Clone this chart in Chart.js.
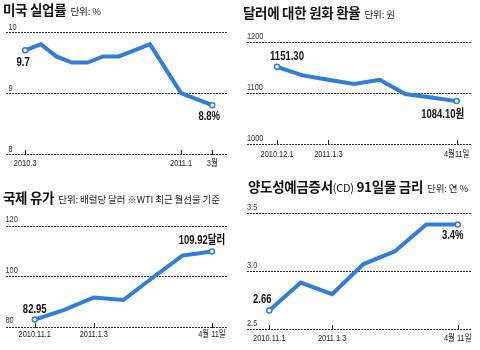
<!DOCTYPE html>
<html>
<head>
<meta charset="utf-8">
<script src="https://cdn.jsdelivr.net/npm/chart.js@4.4.1/dist/chart.umd.min.js"></script>
<style>
  html, body { margin: 0; padding: 0; background: #fff; }
  #wrap { position: relative; width: 480px; height: 350px; overflow: hidden; }
  canvas { position: absolute; }
  .t { position: absolute; font: bold 13.5px/16px "Noto Sans CJK KR", sans-serif; color: #111; white-space: nowrap; letter-spacing: -0.3px; }
  .u { font-weight: normal; font-size: 9.5px; margin-left: 4px; letter-spacing: -0.1px; color: #222; }
  .cd { font-weight: normal; font-size: 11px; }
</style>
</head>
<body>
<div id="wrap">
  <canvas id="c1" width="240" height="175" style="left:0;top:0"></canvas>
  <canvas id="c2" width="240" height="175" style="left:240px;top:0"></canvas>
  <canvas id="c3" width="240" height="175" style="left:0;top:175px"></canvas>
  <canvas id="c4" width="240" height="175" style="left:240px;top:175px"></canvas>
  <div class="t" style="left:3px;top:1px">미국 실업률<span class="u">단위: %</span></div>
  <div class="t" style="left:243px;top:4px">달러에 대한 원화 환율<span class="u">단위: 원</span></div>
  <div class="t" style="left:3px;top:189px">국제 유가<span class="u">단위: 배럴당 달러 ※WTI 최근 월선물 기준</span></div>
  <div class="t" style="left:248px;top:178px">양도성예금증서<span class="cd">(CD)</span> 91일물 금리<span class="u">단위: 연 %</span></div>
</div>
<script>
// 미국 실업률
var unempMonths = ["2010.3", "2010.4", "2010.5", "2010.6", "2010.7", "2010.8", "2010.9", "2010.10", "2010.11", "2010.12", "2011.1", "2011.2", "3월"];
var unempValues = [9.7, 9.8, 9.6, 9.5, 9.5, 9.6, 9.6, 9.7, 9.8, 9.4, 9.0, 8.9, 8.8];
var unempTicks = ["2010.3", "2011.1", "3월"];
var unempYTicks = [8, 9, 10];
var unempNotes = ["9.7", "8.8%"];

// 달러에 대한 원화 환율
var fxDates = ["2010.12.1", "2010.12.15", "2011.1.3", "2011.1.17", "2011.2.1", "2011.2.21", "2011.3.14", "4월11일"];
var fxValues = [1151.3, 1134.5, 1126, 1117.5, 1126, 1098, 1091, 1084.1];
var fxTicks = ["2010.12.1", "2011.1.3", "4월11일"];
var fxYTicks = [1000, 1100, 1200];
var fxNotes = ["1151.30", "1084.10원"];

// 국제 유가
var oilDates = ["2010.11.1", "2010.12.1", "2011.1.3", "2011.2.1", "2011.3.2", "2011.3.21", "4월 11일"];
var oilValues = [82.95, 86.8, 91.7, 90.7, 99.6, 108.3, 109.92];
var oilTicks = ["2010.11.1", "2011.1.3", "4월 11일"];
var oilYTicks = [80, 100, 120];
var oilNotes = ["82.95", "109.92달러"];

// CD 91일물 금리
var cdDates = ["2010.11.1", "2010.12.1", "2011.1.3", "2011.2.1", "2011.3.2", "2011.3.21", "4월 11일"];
var cdValues = [2.66, 2.90, 2.80, 3.06, 3.17, 3.40, 3.40];
var cdTicks = ["2010.11.1", "2011.1.3", "4월 11일"];
var cdYTicks = [2.5, 3.0, 3.5];
var cdNotes = ["2.66", "3.4%"];

var BLUE = "#2f7ed8";
var FONT = "'Liberation Sans', Arimo, 'Noto Sans CJK KR', sans-serif";

// condensed text: the source uses a narrow face, so squeeze horizontally
function squeezed(ctx, text, x, y, sx, align) {
    ctx.save();
    ctx.translate(x, y);
    ctx.scale(sx, 1);
    ctx.textAlign = align;
    ctx.fillText(text, 0, 0);
    ctx.restore();
}

var noteLabels = {
    id: "noteLabels",
    afterDatasetsDraw: function (chart, args, opts) {
        var meta = chart.getDatasetMeta(0);
        var ctx = chart.ctx;
        ctx.save();
        ctx.font = "bold 12.5px " + FONT;
        ctx.fillStyle = "#111";
        ctx.textBaseline = "middle";
        opts.items.forEach(function (it) {
            var p = meta.data[it.index];
            squeezed(ctx, it.text, p.x + it.dx, p.y + it.dy, 0.76, "center");
        });
        ctx.restore();
    }
};

var axisText = {
    id: "axisText",
    afterDraw: function (chart, args, opts) {
        var x = chart.scales.x, y = chart.scales.y, a = chart.chartArea;
        var ctx = chart.ctx;
        ctx.save();
        // tick marks sitting on the bottom line
        ctx.strokeStyle = "#222";
        ctx.lineWidth = 1;
        ctx.beginPath();
        x.ticks.forEach(function (t) {
            var px = Math.round(x.getPixelForValue(t.value)) + 0.5;
            ctx.moveTo(px, a.bottom - 4);
            ctx.lineTo(px, a.bottom + 1);
        });
        ctx.stroke();
        ctx.fillStyle = "#222";
        ctx.font = "9.5px " + FONT;
        ctx.textBaseline = "middle";
        x.ticks.forEach(function (t) {
            squeezed(ctx, opts.cats[t.value], x.getPixelForValue(t.value), a.bottom + opts.xGap, 0.78, "center");
        });
        ctx.fillStyle = "#333";
        y.ticks.forEach(function (t) {
            var s = opts.fixed ? t.value.toFixed(1) : String(t.value);
            squeezed(ctx, s, a.left + opts.yPad, y.getPixelForValue(t.value) + opts.yOff, 0.78, "left");
        });
        ctx.restore();
    }
};

function makeChart(id, cats, values, tickCats, yTicks, notes, box) {
    var last = values.length - 1;
    var tickIdx = tickCats.map(function (c) { return cats.indexOf(c); });
    new Chart(document.getElementById(id), {
        type: "line",
        data: {
            datasets: [{
                data: values.map(function (v, i) { return { x: i, y: v }; }),
                borderColor: BLUE,
                borderWidth: 4,
                tension: 0,
                pointRadius: function (c) { return c.dataIndex === 0 || c.dataIndex === last ? 2.5 : 0; },
                pointBackgroundColor: "#fff",
                pointBorderColor: BLUE,
                pointBorderWidth: 1.5
            }]
        },
        options: {
            responsive: false,
            animation: false,
            layout: { padding: { left: box.left, right: 240 - box.right, top: box.top, bottom: 0 } },
            plugins: {
                legend: { display: false },
                tooltip: { enabled: false },
                noteLabels: {
                    items: [
                        { index: 0, text: notes[0], dx: box.n0[0], dy: box.n0[1] },
                        { index: last, text: notes[1], dx: box.n1[0], dy: box.n1[1] }
                    ]
                },
                axisText: { cats: cats, xGap: box.xGap, yPad: box.yPad, yOff: box.yOff, fixed: box.fixed }
            },
            scales: {
                x: {
                    type: "linear",
                    min: box.xmin,
                    max: box.xmax,
                    afterBuildTicks: function (s) { s.ticks = tickIdx.map(function (v) { return { value: v }; }); },
                    afterFit: function (s) { s.height = 175 - box.bottom; },
                    grid: { display: false, drawTicks: false },
                    border: { display: false },
                    ticks: { display: false }
                },
                y: {
                    min: yTicks[0],
                    max: yTicks[yTicks.length - 1],
                    afterBuildTicks: function (s) { s.ticks = yTicks.map(function (v) { return { value: v }; }); },
                    afterFit: function (s) { s.width = 0; },
                    grid: { color: "#333", lineWidth: 1, drawTicks: false },
                    border: { display: false, dash: [2, 1] },
                    ticks: { display: false }
                }
            }
        },
        plugins: [noteLabels, axisText]
    });
}

makeChart("c1", unempMonths, unempValues, unempTicks, unempYTicks, unempNotes,
    { left: 2, right: 227, top: 32, bottom: 154, xmin: -1.263, xmax: 12.947, xGap: 9, yPad: 3, yOff: -4.5,
      n0: [-2, 12], n1: [-3, 11] });
makeChart("c2", fxDates, fxValues, fxTicks, fxYTicks, fxNotes,
    { left: 7, right: 232, top: 42, bottom: 144, xmin: -1.169, xmax: 7.596, xGap: 10, yPad: 0, yOff: -6,
      n0: [10, -10], n1: [-14, 13] });
makeChart("c3", oilDates, oilValues, oilTicks, oilYTicks, oilNotes,
    { left: 2, right: 227, top: 51, bottom: 152, xmin: -0.99, xmax: 6.51, xGap: 7.5, yPad: 0, yOff: -6.5,
      n0: [0, -10], n1: [-10, -11] });
makeChart("c4", cdDates, cdValues, cdTicks, cdYTicks, cdNotes,
    { left: 7, right: 232, top: 38, bottom: 154, xmin: -0.71, xmax: 6.455, xGap: 9.5, yPad: 0, yOff: -5.5, fixed: true,
      n0: [-7, -11], n1: [-5, 11] });
</script>
</body>
</html>
